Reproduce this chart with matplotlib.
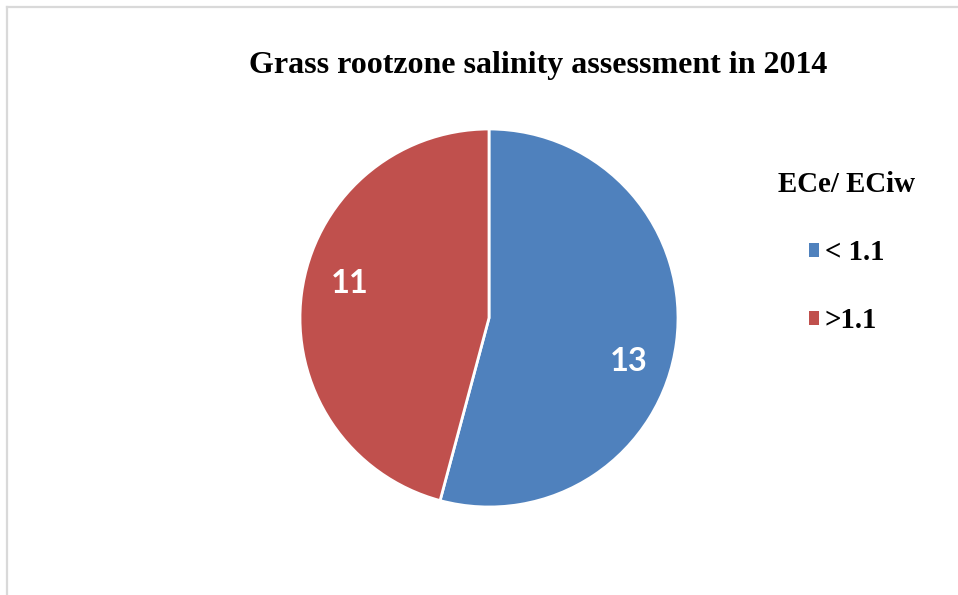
import numpy as np
import matplotlib
matplotlib.use("Agg")
import matplotlib.pyplot as plt
from matplotlib.patches import Patch
from matplotlib.lines import Line2D

# Data
categories = ["< 1.1", ">1.1"]
counts = [13, 11]
colors = ["#4F81BD", "#C0504D"]
title = "Grass rootzone salinity assessment in 2014"
legend_title = "ECe/ ECiw"

W, H = 958, 595
fig = plt.figure(figsize=(W / 100, H / 100), dpi=100)
fig.patch.set_facecolor("white")

# Chart frame (partly cropped on the right and bottom)
frame_kw = dict(color="#D9D9D9", lw=1.6, transform=fig.transFigure)
fig.add_artist(Line2D([7 / W, 1.0], [1 - 6.5 / H, 1 - 6.5 / H], **frame_kw))
fig.add_artist(Line2D([7 / W, 7 / W], [0.0, 1 - 6.5 / H], **frame_kw))

# Pie axes
cx, cy, r = 489, 318, 189
ax = fig.add_axes([(cx - r) / W, (H - cy - r) / H, 2 * r / W, 2 * r / H])
wedges, _ = ax.pie(counts, colors=colors, startangle=90, counterclock=False,
                   radius=1.0, wedgeprops=dict(edgecolor="white", linewidth=2))
ax.set_xlim(-1.0, 1.0)
ax.set_ylim(-1.0, 1.0)
ax.set_aspect("equal")
ax.axis("off")

# Value labels inside the slices
for w, v in zip(wedges, counts):
    mid = np.deg2rad((w.theta1 + w.theta2) / 2 - 8)
    ax.text(0.765 * np.cos(mid), 0.765 * np.sin(mid) - 0.01, str(v), ha="center",
            va="center_baseline", color="white", fontsize=23.5, fontweight="bold",
            family="Lato")

# Title
fig.text(538 / W, 1 - 65 / H, title, ha="center", va="center",
         fontsize=23, fontweight="bold", family="Liberation Serif")

# Legend
handles = [Patch(facecolor=c, edgecolor="none") for c in colors]
fs = 20.8
leg = fig.legend(handles, categories, title=legend_title, loc="upper left",
                 bbox_to_anchor=(758 / W, 1 - 151 / H), frameon=False,
                 prop=dict(family="Liberation Serif", weight="bold", size=fs),
                 title_fontproperties=dict(family="Liberation Serif", weight="bold", size=fs),
                 handlelength=0.34, handleheight=0.34, handletextpad=0.2,
                 labelspacing=1.42, borderpad=0.2)

fig.savefig("out.png", dpi=100, facecolor="white")
